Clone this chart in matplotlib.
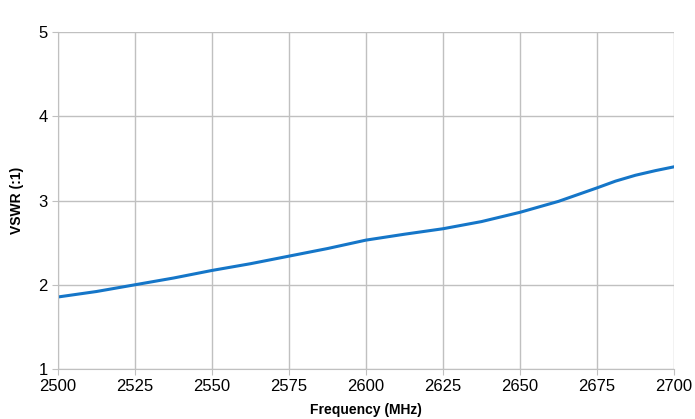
import matplotlib
matplotlib.use("Agg")
import matplotlib.pyplot as plt

plt.rcParams['font.family'] = ['Liberation Sans', 'DejaVu Sans']

freq = [2500, 2512.5, 2525, 2537.5, 2550, 2562.5, 2575, 2587.5, 2600,
        2612.5, 2625, 2637.5, 2650, 2662.5, 2675, 2681, 2687.5, 2694, 2700]
vswr = [1.855, 1.92, 2.0, 2.08, 2.17, 2.25, 2.34, 2.43, 2.53,
        2.60, 2.665, 2.75, 2.86, 2.99, 3.15, 3.23, 3.30, 3.355, 3.40]

xticks = [2500, 2525, 2550, 2575, 2600, 2625, 2650, 2675, 2700]
yticks = [1, 2, 3, 4, 5]

fig = plt.figure(figsize=(6.95, 4.19), dpi=100)
ax = fig.add_axes([0.0835, 0.1193, 0.8863, 0.8043])

ax.plot(freq, vswr, color='#1576c8', linewidth=2.2, solid_joinstyle='round')

ax.set_xlim(2500, 2700)
ax.set_ylim(1, 5)
ax.set_xticks(xticks)
ax.set_yticks(yticks)
ax.grid(True, color='#c0c0c0', linewidth=1.0)
ax.set_axisbelow(True)
for s in ['top', 'right']:
    ax.spines[s].set_visible(False)
for s in ['left', 'bottom']:
    ax.spines[s].set_color('#c0c0c0')
ax.tick_params(colors='#c0c0c0', labelcolor='black', labelsize=12, length=4)

ax.set_xlabel('Frequency (MHz)', fontsize=10, fontweight='bold', labelpad=6)
ax.set_ylabel('VSWR (:1)', fontsize=10, fontweight='bold', labelpad=10)

fig.savefig('out.png', dpi=100)
